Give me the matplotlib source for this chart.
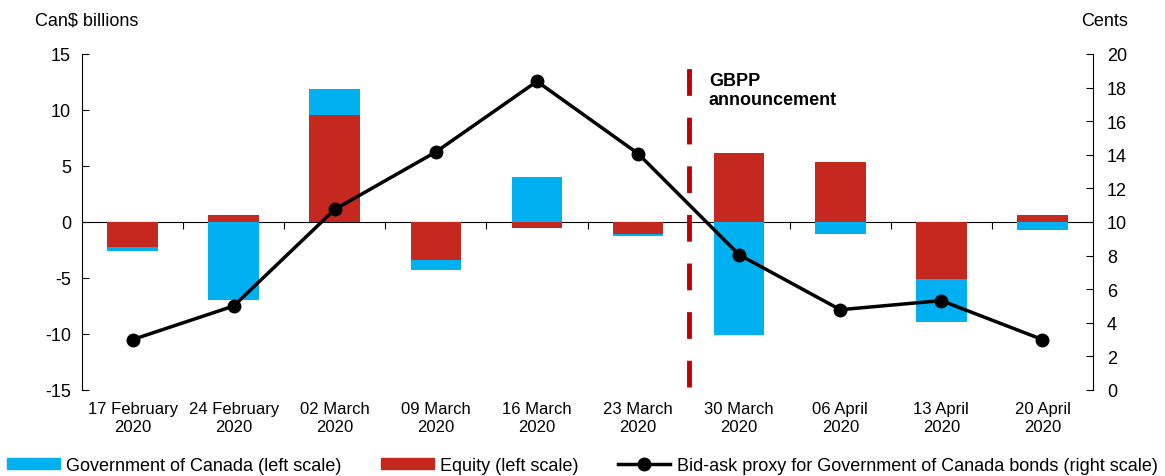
import numpy as np
import matplotlib
matplotlib.use("Agg")
import matplotlib.pyplot as plt
from matplotlib.lines import Line2D
from matplotlib.patches import Patch

plt.rcParams["font.family"] = ["Liberation Sans", "DejaVu Sans"]
plt.rcParams["axes.unicode_minus"] = False

weeks = ["17 February\n2020", "24 February\n2020", "02 March\n2020", "09 March\n2020",
         "16 March\n2020", "23 March\n2020", "30 March\n2020", "06 April\n2020",
         "13 April\n2020", "20 April\n2020"]
equity = [-2.25, 0.63, 9.55, -3.4, -0.54, -1.04, 6.13, 5.36, -5.1, 0.63]
goc = [-0.35, -7.0, 2.3, -0.9, 4.0, -0.24, -10.06, -1.1, -3.8, -0.71]
bid_ask = [3.0, 5.0, 10.75, 14.17, 18.37, 14.07, 8.05, 4.78, 5.32, 3.0]

BLUE = "#00B0F0"
RED = "#C4281F"
DASH_RED = "#C00000"

eq = np.array(equity)
gc = np.array(goc)
# GoC stacks on top of equity when both go the same direction
goc_bottom = np.where(np.sign(gc) == np.sign(eq), eq, 0.0)
x = np.arange(len(weeks))

fig = plt.figure(figsize=(11.65, 4.77), dpi=100)
ax = fig.add_axes([0.0704, 0.1803, 0.8678, 0.7044])
ax2 = ax.twinx()

ax.bar(x, eq, width=0.5, color=RED, linewidth=0)
ax.bar(x, gc, width=0.5, bottom=goc_bottom, color=BLUE, linewidth=0)

ax.set_xlim(-0.5, len(weeks) - 0.5)
ax.set_ylim(-15, 15)
ax.set_yticks(np.arange(-15, 16, 5))
ax.tick_params(axis="y", direction="in", length=5, labelsize=13, pad=8)
ax.set_xticks(x)
ax.set_xticklabels(weeks, fontsize=12, linespacing=1.25)
ax.tick_params(axis="x", length=0, pad=8)
ax.spines["top"].set_visible(False)
ax.spines["bottom"].set_visible(False)
ax.spines["right"].set_visible(False)

# zero line with category separators
zero = ax.secondary_xaxis(0.5)
zero.set_xticks(np.arange(0.5, len(weeks) - 1, 1.0))
zero.tick_params(direction="in", length=5, labelbottom=False, labeltop=False)
zero.spines["bottom"].set_linewidth(1.2)

ax2.plot(x, bid_ask, color="black", linewidth=2.5, marker="o", markersize=9)
ax2.set_ylim(0, 20)
ax2.set_yticks(np.arange(0, 21, 2))
ax2.tick_params(axis="y", direction="in", length=5, labelsize=13, pad=10)
for s in ["top", "bottom", "left"]:
    ax2.spines[s].set_visible(False)

ax2.axvline(5.5, ymin=0.01, ymax=0.96, color=DASH_RED, linewidth=3.5,
            dashes=(5.5, 4.5))
ax2.text(5.7, 18.9, "GBPP\nannouncement", fontsize=13, fontweight="bold",
         va="top", ha="left", linespacing=1.1)

fig.text(0.030, 0.955, "Can$ billions", fontsize=13, va="center", ha="left")
fig.text(0.968, 0.955, "Cents", fontsize=13, va="center", ha="right")

handles = [Patch(color=BLUE), Patch(color=RED),
           Line2D([], [], color="black", linewidth=2.5, marker="o", markersize=9)]
labels = ["Government of Canada (left scale)", "Equity (left scale)",
          "Bid-ask proxy for Government of Canada bonds (right scale)"]
fig.legend(handles, labels, loc="center", bbox_to_anchor=(0.5, 0.022), ncol=3,
           frameon=False, fontsize=13, handlelength=2.9, handleheight=0.6,
           columnspacing=2.2, handletextpad=0.35, borderpad=0.2)

fig.savefig("out.png", dpi=100)
